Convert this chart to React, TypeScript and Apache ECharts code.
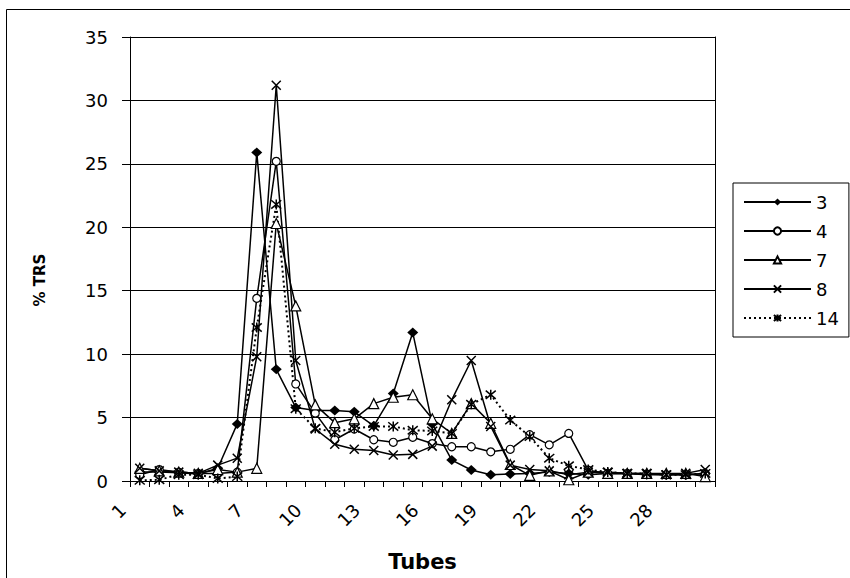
import React, { useEffect, useRef } from "react";
import * as echarts from "echarts";

const tubes = ["1","2","3","4","5","6","7","8","9","10","11","12","13","14","15","16","17","18","19","20","21","22","23","24","25","26","27","28","29","30"];
const seriesNames = ["3", "4", "7", "8", "14"];
const s3 = [0.7,0.7,0.65,0.55,1.0,4.5,25.9,8.8,5.8,5.55,5.55,5.45,4.35,6.9,11.7,4.5,1.65,0.87,0.5,0.55,0.6,0.7,0.6,0.5,0.6,0.6,0.5,0.5,0.5,0.6];
const s4 = [0.5,0.9,0.7,0.6,0.6,0.7,14.4,25.2,7.65,5.35,3.25,4.1,3.25,3.05,3.45,2.95,2.7,2.7,2.3,2.5,3.65,2.85,3.75,0.85,0.6,0.6,0.55,0.5,0.5,0.6];
const s7 = [1.0,0.8,0.7,0.6,0.9,0.7,1.0,20.3,13.8,6.0,4.6,4.9,6.1,6.6,6.8,4.9,3.75,6.1,4.55,1.3,0.45,0.8,0.1,0.7,0.6,0.6,0.6,0.6,0.6,0.35];
const s8 = [1.0,0.8,0.7,0.6,1.25,1.8,9.8,31.2,9.5,4.1,2.9,2.5,2.4,2.05,2.1,2.75,6.4,9.5,4.3,1.25,0.9,0.8,0.5,0.7,0.7,0.6,0.6,0.5,0.6,0.9];
const s14 = [0.05,0.1,0.5,0.5,0.2,0.35,12.1,21.8,5.7,4.15,3.85,4.15,4.3,4.3,4.0,3.95,3.75,6.05,6.8,4.8,3.5,1.8,1.2,0.9,0.7,0.6,0.6,0.5,0.5,0.6];

const FONT = "DejaVu Sans";
const X_PATH = "path://M0,0L10,10M10,0L0,10";
const STAR_PATH = "path://M0,0L10,10M10,0L0,10M5,-1L5,11";

export default function App() {
  const ref = useRef<HTMLDivElement>(null);
  useEffect(() => {
    if (!ref.current) return;
    const chart = echarts.init(ref.current, undefined, { renderer: "svg" });
    const line = { color: "#000", width: 1.5 };
    const openItem = { color: "#fff", borderColor: "#000", borderWidth: 1.2 };
    const option: any = {
      animation: false,
      backgroundColor: "#fff",
      textStyle: { fontFamily: FONT, color: "#000" },
      grid: { left: 130, right: 135, top: 37, bottom: 97 },
      legend: {
        orient: "vertical",
        left: 733,
        top: 183,
        padding: [10, 10, 10, 10],
        itemWidth: 67,
        itemHeight: 9,
        itemGap: 11,
        borderColor: "#000",
        borderWidth: 1,
        textStyle: { fontSize: 18, color: "#000", fontFamily: FONT },
        data: seriesNames,
      },
      graphic: [
        {
          type: "rect",
          silent: true,
          shape: { x: 6.5, y: 9.5, width: 1000, height: 1000 },
          style: { fill: "none", stroke: "#000", lineWidth: 1 },
        },
      ],
      xAxis: {
        type: "category",
        data: tubes,
        boundaryGap: true,
        axisLine: { lineStyle: { color: "#000", width: 1 } },
        axisTick: { show: true, interval: 0, length: 6, lineStyle: { color: "#000" } },
        axisLabel: {
          interval: 2,
          rotate: 45,
          margin: 9,
          padding: [0, 24, 0, 0],
          fontSize: 18,
          color: "#000",
          fontFamily: FONT,
        },
        name: "Tubes",
        nameLocation: "middle",
        nameGap: 70,
        nameTextStyle: { fontWeight: "bold", fontSize: 21, color: "#000", fontFamily: FONT },
      },
      yAxis: [
        {
          type: "value",
          min: 0,
          max: 35,
          interval: 5,
          axisLine: { show: true, lineStyle: { color: "#000" } },
          axisTick: { show: true, length: 8, lineStyle: { color: "#000" } },
          axisLabel: { margin: 22, fontSize: 18, color: "#000", fontFamily: FONT },
          splitLine: { show: true, lineStyle: { color: "#000", width: 1 } },
          name: "% TRS",
          nameLocation: "middle",
          nameRotate: 90,
          nameGap: 83,
          nameTextStyle: { fontWeight: "bold", fontSize: 15, color: "#000", fontFamily: FONT, padding: [0, 42, 0, 0] },
        },
        {
          type: "value",
          min: 0,
          max: 35,
          interval: 5,
          position: "right",
          axisLine: { show: true, lineStyle: { color: "#000" } },
          axisTick: { show: false },
          axisLabel: { show: false },
          splitLine: { show: false },
        },
      ],
      series: [
        {
          name: seriesNames[0], type: "line", data: s3,
          symbol: "diamond", symbolSize: [11, 10],
          lineStyle: line, itemStyle: { color: "#000" },
        },
        {
          name: seriesNames[1], type: "line", data: s4,
          symbol: "circle", symbolSize: 8,
          lineStyle: line, itemStyle: openItem,
        },
        {
          name: seriesNames[2], type: "line", data: s7,
          symbol: "triangle", symbolSize: 10,
          lineStyle: line, itemStyle: openItem,
        },
        {
          name: seriesNames[3], type: "line", data: s8,
          symbol: X_PATH, symbolSize: 9,
          lineStyle: line, itemStyle: { color: "#000", borderColor: "#000", borderWidth: 1.5 },
        },
        {
          name: seriesNames[4], type: "line", data: s14,
          symbol: STAR_PATH, symbolSize: 10,
          lineStyle: { color: "#000", width: 2, type: [2, 3] },
          itemStyle: { color: "#000", borderColor: "#000", borderWidth: 1.5 },
        },
      ],
    };
    chart.setOption(option);
    return () => chart.dispose();
  }, []);
  return (
    <div
      ref={ref}
      style={{ position: "absolute", left: 0, top: 0, width: 850, height: 578 }}
    />
  );
}
